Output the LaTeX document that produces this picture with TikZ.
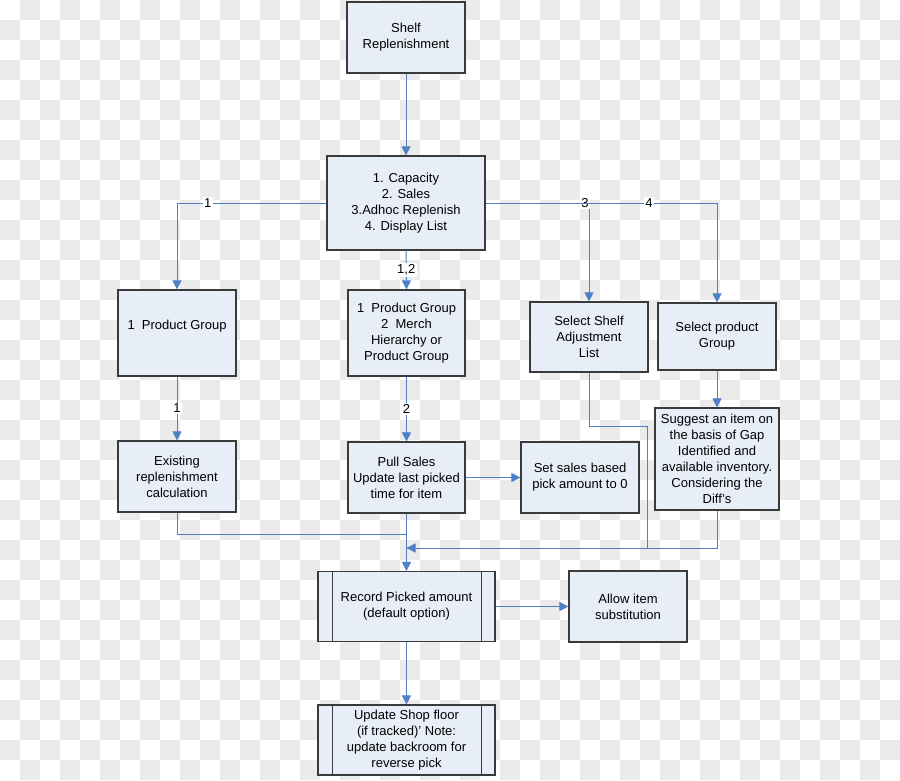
\documentclass[tikz,border=0pt]{standalone}
\usepackage{fontspec}
\setmainfont{Liberation Sans}
\usetikzlibrary{calc,positioning,arrows.meta}
\definecolor{BoxFill}{HTML}{E8EEF8}
\definecolor{BoxEdge}{HTML}{3A3A3A}
\definecolor{FlowBlue}{HTML}{4F7FC4}
\definecolor{CheckGrey}{HTML}{EBEBEB}

\tikzset{
  procbox/.style={draw=BoxEdge, fill=BoxFill, line width=1.2pt, align=center,
    inner sep=2pt, font=\fontsize{13}{16}\selectfont},
  flow/.style={draw=FlowBlue, line width=1pt, -{Triangle[length=9pt,width=9pt]}},
  plainflow/.style={draw=FlowBlue, line width=1pt},
  flowlabel/.style={fill=white, inner sep=1.5pt, font=\fontsize{13}{15}\selectfont}
}

\begin{document}
\begin{tikzpicture}[x=1pt,y=-1pt]
  \useasboundingbox (0,0) rectangle (900,780);
  % checkered backdrop
  \fill[white] (0,0) rectangle (900,780);
  \foreach \i in {0,...,44} {
    \foreach \j in {0,...,38} {
      \pgfmathparse{int(mod(\i+\j,2))}
      \ifnum\pgfmathresult=1
        \fill[CheckGrey] (20*\i,20*\j) rectangle ++(20,20);
      \fi
    }
  }

  % boxes
  \node[procbox, minimum width=118pt, minimum height=71pt] (shelf) at (406,37.5) {Shelf\\Replenishment};
  \node[procbox, minimum width=158pt, minimum height=94pt] (opts) at (406,203)
    {1. Capacity\\2. Sales\\3.Adhoc Replenish\\4. Display List};
  \node[procbox, minimum width=118pt, minimum height=86pt] (pgA) at (177,333) {1\ \ Product Group\\\mbox{}};
  \node[procbox, minimum width=117pt, minimum height=86pt] (pgB) at (406.5,333)
    {1\ \ Product Group\\2\ \ Merch\\Hierarchy or\\Product Group};
  \node[procbox, minimum width=118pt, minimum height=70pt] (adj) at (589,337) {Select Shelf\\Adjustment\\List};
  \node[procbox, minimum width=118pt, minimum height=67pt] (selpg) at (717,336.5) {Select product\\Group};
  \node[procbox, minimum width=118pt, minimum height=71pt] (exist) at (177,476.5)
    {Existing\\replenishment\\calculation};
  \node[procbox, minimum width=117pt, minimum height=71pt] (pull) at (406.5,477.5)
    {Pull Sales\\Update last picked\\time for item};
  \node[procbox, minimum width=118pt, minimum height=71pt] (zero) at (580,477.5)
    {Set sales based\\pick amount to 0};
  \node[procbox, minimum width=124pt, minimum height=102pt] (suggest) at (717,459)
    {Suggest an item on\\the basis of Gap\\Identified and\\available inventory.\\Considering the\\Diff's};
  \node[procbox, minimum width=177pt, minimum height=70pt] (record) at (406.5,606.5)
    {Record Picked amount\\(default option)};
  \node[procbox, minimum width=118pt, minimum height=71pt] (subst) at (628,606.5)
    {Allow item\\substitution};
  \node[procbox, minimum width=177pt, minimum height=70pt] (update) at (406.5,740)
    {Update Shop floor\\(if tracked)’ Note:\\update backroom for\\reverse pick};
  \foreach \n in {record,update} {
    \draw[BoxEdge, line width=1.2pt] ([xshift=15pt]\n.north west) -- ([xshift=15pt]\n.south west);
    \draw[BoxEdge, line width=1.2pt] ([xshift=-14pt]\n.north east) -- ([xshift=-14pt]\n.south east);
  }

  % merge points
  \coordinate (mergeA) at (406.5,534);
  \coordinate (mergeB) at (406.5,548);
  \coordinate (adjbend) at (647,426);

  % connectors
  \draw[flow] (shelf) -- (opts);
  \draw[flow] (opts.west) -| node[flowlabel, pos=0.397] {1} (pgA.north);
  \draw[flow] (opts.south) -- node[flowlabel] {1,2} (pgB.north);
  \draw[flow] (opts.east) -| node[flowlabel, pos=0.48] {3} (adj.north);
  \draw[flow] (opts.east) -| node[flowlabel, pos=0.353] {4} (selpg.north);
  \draw[flow] (pgA) -- node[flowlabel] {1} (exist);
  \draw[flow] (pgB) -- node[flowlabel] {2} (pull);
  \draw[flow] (pull) -- (zero);
  \draw[flow] (selpg) -- (suggest);
  \draw[flow] (pull) -- (record);
  \draw[plainflow] (exist.south) |- (mergeA);
  \draw[plainflow] (adj.south) |- (adjbend) |- (mergeB);
  \draw[flow] (suggest.south) |- (mergeB);
  \draw[flow] (record) -- (subst);
  \draw[flow] (record) -- (update);
\end{tikzpicture}
\end{document}
